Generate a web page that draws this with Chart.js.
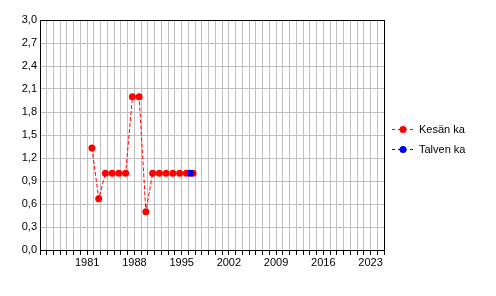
<!DOCTYPE html>
<html>
<head>
<meta charset="utf-8">
<script src="https://cdn.jsdelivr.net/npm/chart.js@4"></script>
<style>
  html, body { margin: 0; padding: 0; background: #fff; }
  #wrap { width: 496px; height: 296px; position: relative; }
</style>
</head>
<body>
<div id="wrap"><canvas id="chart"></canvas></div>
<script>
// summer averages (x = decimal year as plotted)
const kesaX = [1981.7, 1982.7, 1983.7, 1984.7, 1985.7, 1986.7, 1987.7, 1988.7,
               1989.7, 1990.7, 1991.7, 1992.7, 1993.7, 1994.7, 1995.7, 1996.7];
const kesaY = [1.33, 0.67, 1.0, 1.0, 1.0, 1.0, 2.0, 2.0,
               0.5, 1.0, 1.0, 1.0, 1.0, 1.0, 1.0, 1.0];
// winter averages
const talviX = [1996.3];
const talviY = [1.0];

const xLabels = [1981, 1988, 1995, 2002, 2009, 2016, 2023];
const seriesNames = ["Kesän ka", "Talven ka"];

const FONT = {family: "'Liberation Sans', Arial, sans-serif", size: 11};

function pts(xs, ys){
  return xs.map((x, i) => ({x, y: ys[i]}));
}

// black frame round the plot area
const frame = {
  id: "frame",
  beforeDatasetsDraw(c){
    const a = c.chartArea, ctx = c.ctx;
    ctx.save();
    ctx.strokeStyle = "#000";
    ctx.lineWidth = 1;
    ctx.strokeRect(Math.round(a.left) + 0.5, Math.round(a.top) + 0.5,
                   Math.round(a.right - a.left), Math.round(a.bottom - a.top));
    ctx.restore();
  }
};

// legend at the right: dashed line with a marker, then the name
const sideLegend = {
  id: "sideLegend",
  afterDraw(c){
    const ctx = c.ctx;
    ctx.save();
    c.data.datasets.forEach((ds, i) => {
      const y = 129.5 + i * 20;
      ctx.strokeStyle = ds.borderColor;
      ctx.lineWidth = 1;
      ctx.setLineDash([3, 3]);
      ctx.beginPath();
      ctx.moveTo(392, y);
      ctx.lineTo(414, y);
      ctx.stroke();
      ctx.setLineDash([]);
      ctx.fillStyle = ds.backgroundColor;
      ctx.beginPath();
      ctx.arc(403, y, 3.5, 0, Math.PI * 2);
      ctx.fill();
      ctx.fillStyle = "#000";
      ctx.font = `${FONT.size}px ${FONT.family}`;
      ctx.textBaseline = "middle";
      ctx.fillText(ds.label, 419, y);
    });
    ctx.restore();
  }
};

new Chart(document.getElementById("chart"), {
  type: "line",
  data: {
    datasets: [
      {
        label: seriesNames[0],
        data: pts(kesaX, kesaY),
        borderColor: "#ff0000",
        backgroundColor: "#ff0000",
        borderWidth: 1,
        borderDash: [4, 2],
        pointRadius: 3.5,
        pointBorderWidth: 0,
        order: 2
      },
      {
        label: seriesNames[1],
        data: pts(talviX, talviY),
        borderColor: "#0000ff",
        backgroundColor: "#0000ff",
        borderWidth: 1,
        borderDash: [4, 2],
        pointRadius: 3.5,
        pointBorderWidth: 0,
        order: 1
      }
    ]
  },
  options: {
    responsive: true,
    maintainAspectRatio: false,
    animation: false,
    layout: {padding: {top: 20, right: 112, bottom: 0, left: 0}},
    plugins: {legend: {display: false}, tooltip: {enabled: false}},
    scales: {
      x: {
        type: "linear",
        min: 1974,
        max: 2025,
        afterFit(s){ s.height = 46; },
        ticks: {
          stepSize: 1,
          autoSkip: false,
          maxRotation: 0,
          padding: 1,
          color: "#000",
          font: FONT,
          callback: (v) => xLabels.includes(v) ? String(v) : ""
        },
        grid: {color: "#c0c0c0", tickColor: "#000", tickLength: 5},
        border: {color: "#000"}
      },
      y: {
        min: 0,
        max: 3,
        afterFit(s){ s.width = 40; },
        ticks: {
          stepSize: 0.3,
          padding: 3,
          color: "#000",
          font: FONT,
          callback: (v) => Number(v).toFixed(1).replace(".", ",")
        },
        grid: {color: "#c0c0c0", drawTicks: false},
        border: {color: "#000"}
      }
    }
  },
  plugins: [frame, sideLegend]
});
</script>
</body>
</html>
